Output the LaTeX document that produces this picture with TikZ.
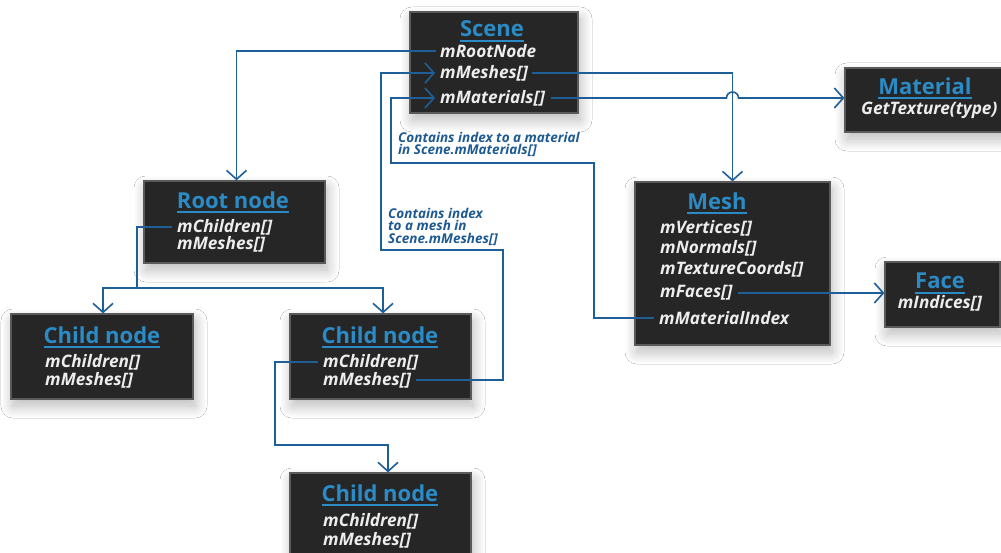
\documentclass[tikz,border=0pt]{standalone}
\usepackage{fontspec}
\setmainfont{Open Sans}
\usetikzlibrary{arrows.meta,shadows.blur}
\definecolor{boxfill}{HTML}{262626}
\definecolor{boxedge}{HTML}{5A5A5A}
\definecolor{titleblue}{HTML}{2A8BC6}
\definecolor{linkblue}{HTML}{1F5F98}
\definecolor{notetext}{HTML}{1E5A92}
\definecolor{fieldtext}{HTML}{EDEDED}
\begin{document}
\begin{tikzpicture}[x=1pt,y=-1pt,
 box/.style={draw=boxedge, line width=1.2pt, fill=boxfill, inner sep=0pt,
   blur shadow={shadow xshift=2pt, shadow yshift=-7pt, shadow blur radius=12pt, shadow blur steps=24, shadow opacity=28}},
 ttl/.style={font=\fontsize{22}{22}\selectfont\bfseries, text=titleblue, inner sep=0pt},
 uline/.style={draw=titleblue, line width=1.6pt},
 fld/.style={font=\fontsize{17.2}{17.2}\selectfont\bfseries\itshape, text=fieldtext, inner sep=0pt, anchor=west},
 note/.style={font=\fontsize{13.5}{12.4}\selectfont\bfseries\itshape, text=notetext, align=left, anchor=north west, inner sep=0pt},
 link/.style={draw=linkblue, line width=1.6pt},
 arr/.style={link, -{Straight Barb[length=9pt,width=20pt,line width=1.6pt]}},
]
\useasboundingbox[fill=white] (0,0) rectangle (1001,553);

% boxes
\node[box, minimum width=168pt, minimum height=101pt] (scene) at (494,62.5) {};
\node[box, minimum width=163pt, minimum height=64pt] (material) at (926.5,100) {};
\node[box, minimum width=181pt, minimum height=82pt] (root) at (234.5,222) {};
\node[box, minimum width=182pt, minimum height=85pt] (child1) at (102,356.5) {};
\node[box, minimum width=181pt, minimum height=85pt] (child2) at (380.5,356.5) {};
\node[box, minimum width=181pt, minimum height=87pt] (child3) at (380.5,516.5) {};
\node[box, minimum width=195pt, minimum height=163pt] (mesh) at (732.5,263.5) {};
\node[box, minimum width=115pt, minimum height=65pt] (face) at (942.5,294.5) {};

% titles
\node[ttl] (tScene) at (492,29) {Scene};
\node[ttl] (tMaterial) at (925,86) {Material};
\node[ttl] (tRoot) at (233,200) {Root node};
\node[ttl] (tChild1) at (102,335) {Child node};
\node[ttl] (tChild2) at (380,335) {Child node};
\node[ttl] (tChild3) at (380,493) {Child node};
\node[ttl] (tMesh) at (717,201) {Mesh};
\node[ttl] (tFace) at (940,281) {Face};
\foreach \t in {tScene,tMaterial,tRoot,tChild1,tChild2,tChild3,tMesh,tFace}
  \draw[uline] ([yshift=-4pt]\t.base west) -- ([yshift=-4pt]\t.base east);

% fields
\node[fld] (sRoot) at (440,51) {mRootNode};
\node[fld] (sMeshes) at (440,73) {mMeshes[]};
\node[fld] (sMats) at (440,98) {mMaterials[]};
\node[fld] (mTex) at (861,110) {GetTexture(type)};
\node[fld] (rChildren) at (177,227) {mChildren[]};
\node[fld] (rMeshes) at (177,244) {mMeshes[]};
\node[fld] (aChildren) at (45,362) {mChildren[]};
\node[fld] (aMeshes) at (45,380) {mMeshes[]};
\node[fld] (bChildren) at (323,362) {mChildren[]};
\node[fld] (bMeshes) at (323,380) {mMeshes[]};
\node[fld] (cChildren) at (323,521) {mChildren[]};
\node[fld] (cMeshes) at (323,540) {mMeshes[]};
\node[fld] (mVert) at (660,228) {mVertices[]};
\node[fld] (mNorm) at (660,248) {mNormals[]};
\node[fld] (mCoord) at (660,269) {mTextureCoords[]};
\node[fld] (mFaces) at (660,293) {mFaces[]};
\node[fld] (mIdx) at (659,318) {mMaterialIndex};
\node[fld, anchor=center] (fIdx) at (940,303) {mIndices[]};

% notes
\node[note] (noteMat) at (398,132) {Contains index to a material\\in Scene.mMaterials[]};
\node[note] (noteMesh) at (388,208) {Contains index\\to a mesh in\\Scene.mMeshes[]};

% helper corners
\coordinate (c1) at (594,163);
\coordinate (c2) at (391,163);
\coordinate (d1) at (503,250);
\coordinate (d2) at (381,250);
\coordinate (r1) at (137,288);
\coordinate (k1) at (275,445);

% connectors
\draw[arr] ([xshift=-4pt]sRoot.west) -| ([xshift=2pt]root.north);
\draw[arr] ([xshift=4pt]sMeshes.east) -| (mesh.north);
\draw[arr] ([xshift=6pt]sMats.east) -- ([xshift=-6pt]mesh.north |- sMats.east)
   arc[start angle=180, end angle=0, radius=6pt] -- (material.west |- sMats.east);
\draw[arr] ([xshift=-5pt]mIdx.west) -| (c1) -- (c2) |- ([xshift=-5pt]sMats.west);
\draw[arr] ([xshift=5pt]bMeshes.east) -| (d1) -- (d2) |- ([xshift=-5pt]sMeshes.west);
\draw[link] ([xshift=-5pt]rChildren.west) -| (r1);
\draw[arr] (r1) -| ([xshift=1pt]child1.north);
\draw[arr] (r1) -| ([xshift=2.5pt]child2.north);
\draw[arr] ([xshift=-5pt]bChildren.west) -| (k1) -| ([xshift=7.5pt]child3.north);
\draw[arr] ([xshift=5pt]mFaces.east) -- (face.west |- mFaces.east);
\end{tikzpicture}
\end{document}
